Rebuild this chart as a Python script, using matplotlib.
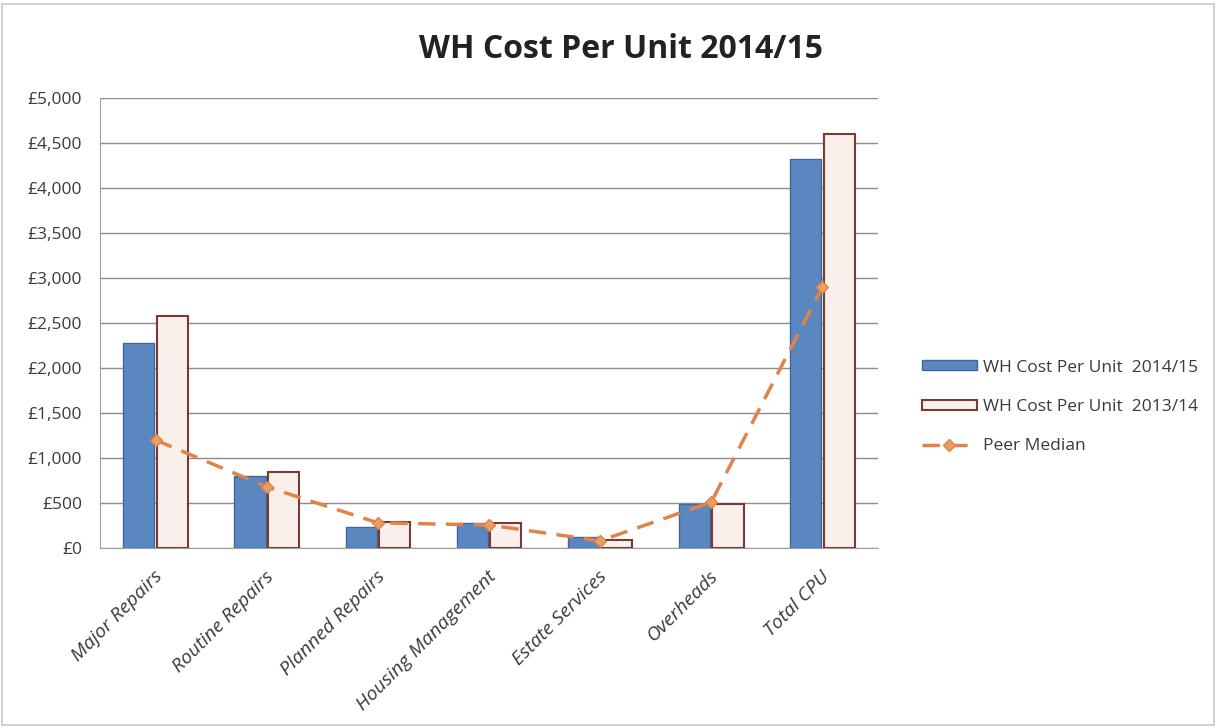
import matplotlib.pyplot as plt
import numpy as np
from matplotlib.patches import Rectangle
from matplotlib.ticker import FuncFormatter, MultipleLocator

FONT = "Open Sans"
BLUE = "#5B87C0"
BLUE_EDGE = "#3F679A"
PINK = "#FBEFEC"
PINK_EDGE = "#7A3A34"
ORANGE = "#E0834A"
GRID = "#8C8C8C"
TEXT = "#3A3A3A"

CATEGORIES = [
    "Major Repairs",
    "Routine Repairs",
    "Planned Repairs",
    "Housing Management",
    "Estate Services",
    "Overheads",
    "Total CPU",
]
COST_2014_15 = [2280, 800, 235, 280, 120, 485, 4320]
COST_2013_14 = [2575, 845, 290, 275, 90, 490, 4600]
PEER_MEDIAN = [1200, 680, 280, 255, 80, 510, 2900]


def _pounds(value, _pos):
    return f"£{int(value):,}"


fig = plt.figure(figsize=(12.18, 7.28), dpi=100)
fig.patch.set_facecolor("white")
ax = fig.add_axes([100 / 1218, 1 - 548 / 728, 778 / 1218, 450 / 728])

x = np.arange(len(CATEGORIES))
w = 0.28
b1 = ax.bar(x - w / 2 - 0.01, COST_2014_15, width=w, color=BLUE, edgecolor=BLUE_EDGE,
            linewidth=1.0, label="WH Cost Per Unit  2014/15", zorder=3)
b2 = ax.bar(x + w / 2 + 0.01, COST_2013_14, width=w, color=PINK, edgecolor=PINK_EDGE,
            linewidth=1.5, label="WH Cost Per Unit  2013/14", zorder=3)
line, = ax.plot(x, PEER_MEDIAN, color=ORANGE, linestyle=(0, (5, 3)), linewidth=2.5,
                marker="D", markersize=6, markerfacecolor="#E8A060", markeredgecolor=ORANGE,
                label="Peer Median", zorder=4)

ax.set_xlim(-0.5, len(CATEGORIES) - 0.5)
ax.set_ylim(0, 5000)
ax.yaxis.set_major_locator(MultipleLocator(500))
ax.yaxis.set_major_formatter(FuncFormatter(_pounds))
ax.yaxis.grid(True, color=GRID, linewidth=1.0, zorder=0)
ax.set_axisbelow(True)

ax.set_xticks(x - 0.02)
ax.set_xticklabels(CATEGORIES, rotation=45, ha="right", rotation_mode="anchor",
                   fontsize=14, fontstyle="italic", fontname=FONT, color=TEXT)
for lbl in ax.get_yticklabels():
    lbl.set_fontname(FONT)
ax.tick_params(axis="y", length=0, labelsize=12.5, pad=13, colors=TEXT)
ax.tick_params(axis="x", length=0, pad=14)

for side in ("top", "right"):
    ax.spines[side].set_visible(False)
ax.spines["left"].set_color("#A0A0A0")
ax.spines["bottom"].set_color("#A0A0A0")

fig.text(621 / 1218, 1 - 50 / 728, "WH Cost Per Unit 2014/15", ha="center", va="center",
         fontsize=23, fontweight="bold", fontname=FONT, color="#222222")

fig.legend([b1, b2, line], [b1.get_label(), b2.get_label(), line.get_label()],
           loc="center left", bbox_to_anchor=(906 / 1218, 1 - 407 / 728),
           frameon=False, handlelength=3.2, handleheight=0.5, handletextpad=0.35,
           labelspacing=1.35, prop={"family": FONT, "size": 12.5}, labelcolor=TEXT)

fig.patches.append(Rectangle((0.002, 0.004), 0.995, 0.99, transform=fig.transFigure,
                             fill=False, edgecolor="#C8C8C8", linewidth=1.2))

fig.savefig("out.png", dpi=100, facecolor="white")
plt.close(fig)
